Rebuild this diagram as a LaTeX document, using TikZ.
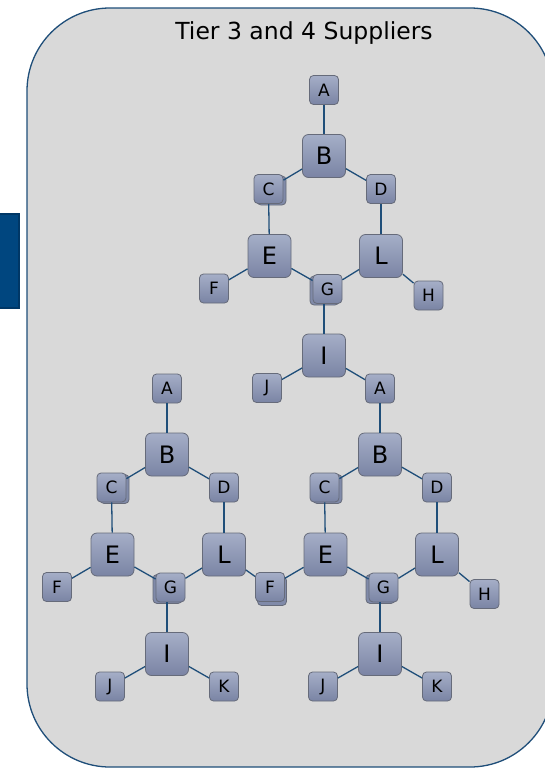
\documentclass[tikz,border=0pt]{standalone}
\usepackage{fontspec}
\setmainfont{DejaVu Sans}
\usetikzlibrary{shadows}
\definecolor{frameblue}{HTML}{1F4E79}
\definecolor{panelgray}{HTML}{D9D9D9}
\definecolor{tabblue}{HTML}{00467F}
\definecolor{tabdark}{HTML}{003766}
\definecolor{boxtop}{HTML}{A5AEC7}
\definecolor{boxbot}{HTML}{7A84A4}
\definecolor{boxline}{HTML}{666B7A}
\definecolor{linkblue}{HTML}{1F4E79}

\begin{document}
\begin{tikzpicture}[
  x=1pt, y=-1pt,
  supbox/.style={
    draw=boxline, line width=0.8pt, top color=boxtop, bottom color=boxbot,
    rounded corners=4pt, minimum width=29pt, minimum height=29pt,
    inner sep=0pt, font=\fontsize{17}{19}\selectfont, text=black
  },
  bigbox/.style={
    supbox, rounded corners=6pt, minimum width=43pt, minimum height=43pt,
    font=\fontsize{24}{27}\selectfont
  },
  stack/.style 2 args={
    general shadow={shadow xshift=#1, shadow yshift=#2,
      fill=boxbot!85!boxtop, draw=boxline, line width=0.8pt}
  },
  plain/.style={},
  fstack/.style={stack={2pt}{-4pt}},
  link/.style={draw=linkblue, line width=1.3pt},
]

\useasboundingbox (0,0) rectangle (544,769);

% Panel and side tab
\draw[frameblue, fill=panelgray, line width=1.3pt, rounded corners=83pt]
  (27,8) rectangle (553,767);
\fill[tabblue, draw=tabdark, line width=1.5pt] (-5,214) rectangle (19,308);

% Title
\node[font=\fontsize{23.5}{28}\selectfont, anchor=base] (title) at (304,39.5)
  {Tier 3 and 4 Suppliers};

% ---- Supplier clusters (placed from their B node) ----
\foreach \c/\bx/\by/\fs in {t/324/156/plain, l/167/454.5/plain, r/380/454.5/fstack} {
  \node[supbox] (\c A) at (\bx, \by-66) {A};
  \node[bigbox] (\c B) at (\bx, \by) {B};
  \node[supbox, stack={3pt}{-1.5pt}] (\c C) at (\bx-55.5, \by+33) {C};
  \node[supbox] (\c D) at (\bx+57, \by+33) {D};
  \node[bigbox] (\c E) at (\bx-54.5, \by+100) {E};
  \node[bigbox] (\c L) at (\bx+57, \by+100) {L};
  \node[supbox, \fs] (\c F) at (\bx-110, \by+132.5) {F};
  \node[supbox, stack={-3pt}{-1.5pt}] (\c G) at (\bx+3.5, \by+133) {G};
  \node[bigbox] (\c I) at (\bx, \by+199.5) {I};
  \node[supbox] (\c J) at (\bx-57, \by+232) {J};
}

% ---- Extra end nodes ----
\node[supbox] (tH) at (428.5,295.5) {H};
\node[supbox] (rH) at (484.5,594) {H};
\node[supbox] (lK) at (224,686.5) {K};
\node[supbox] (rK) at (437,686.5) {K};

% Links inside each cluster
\foreach \c in {t,l,r} {
  \foreach \p/\q in {A/B, B/C, B/D, C/E, D/L, E/F, E/G, L/G, I/J}
    \draw[link] (\c\p) -- (\c\q);
  \draw[link] (\c I) -- (\c I |- \c G.south);
}

% Links between clusters
\draw[link] (tL) -- (tH);
\draw[link] (tI) -- (rA);
\draw[link] (lL) -- (rF);
\draw[link] (lI) -- (lK);
\draw[link] (rL) -- (rH);
\draw[link] (rI) -- (rK);

\end{tikzpicture}
\end{document}
